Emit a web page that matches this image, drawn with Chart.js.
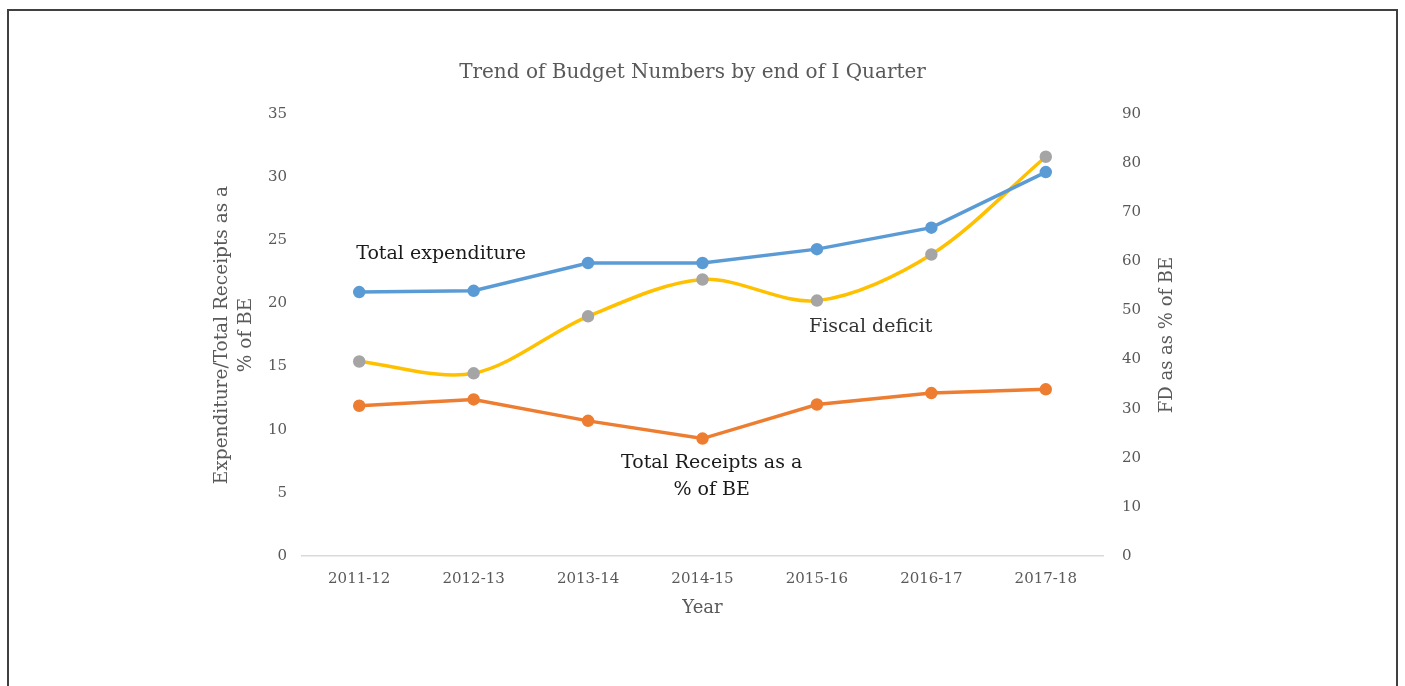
<!DOCTYPE html>
<html><head><meta charset="utf-8">
<script src="https://cdn.jsdelivr.net/npm/chart.js@4"></script>
<style>
html,body{margin:0;padding:0;background:#fff;overflow:hidden;width:1405px;height:686px}
#frame{position:absolute;left:7px;top:9px;width:1387px;height:700px;border:2px solid #404040;box-sizing:content-box}
#wrap{position:absolute;left:0;top:0;width:1405px;height:686px}
</style></head><body>
<div id="frame"></div>
<div id="wrap"><canvas id="c" width="1405" height="686"></canvas></div>
<script>
const categories = ['2011-12','2012-13','2013-14','2014-15','2015-16','2016-17','2017-18'];
const totalExpenditure = [20.9, 21.0, 23.2, 23.2, 24.3, 26.0, 30.4];
const totalReceipts = [11.9, 12.4, 10.7, 9.3, 12.0, 12.9, 13.2];
const fiscalDeficit = [39.6, 37.2, 48.8, 56.3, 52.0, 61.4, 81.3];
const leftAxisRange = [0, 35, 5];
const rightAxisRange = [0, 90, 10];
const chartTitle = 'Trend of Budget Numbers by end of I Quarter';
const leftAxisTitle = ['Expenditure/Total Receipts as a', '% of BE'];
const rightAxisTitle = 'FD as as % of BE';
const xAxisTitle = 'Year';

const FONT = "'DejaVu Serif', 'Liberation Serif', serif";
const GREY = '#595959';

const textPlugin = {
  id: 'texts',
  afterDraw(chart) {
    const ctx = chart.ctx, ca = chart.chartArea;
    const xs = chart.scales.x, ys = chart.scales.y;
    ctx.save();
    ctx.fillStyle = GREY;
    ctx.font = '20px ' + FONT;
    ctx.textAlign = 'center'; ctx.textBaseline = 'middle';
    ctx.fillText(chartTitle, (ca.left + ca.right) / 2 - 10, 73);
    ctx.font = '18px ' + FONT;
    ctx.fillText(xAxisTitle, (ca.left + ca.right) / 2, 608);
    ctx.save();
    ctx.translate(222, (ca.top + ca.bottom) / 2);
    ctx.rotate(-Math.PI / 2);
    ctx.font = '18.5px ' + FONT;
    ctx.fillText(leftAxisTitle[0], 0, 0);
    ctx.fillText(leftAxisTitle[1], 0, 24);
    ctx.restore();
    ctx.save();
    ctx.translate(1167, (ca.top + ca.bottom) / 2);
    ctx.rotate(-Math.PI / 2);
    ctx.font = '18px ' + FONT;
    ctx.fillText(rightAxisTitle, 0, 0);
    ctx.restore();
    ctx.fillStyle = '#1a1a1a';
    ctx.font = '19px ' + FONT;
    ctx.textAlign = 'left';
    ctx.fillText('Total expenditure', xs.getPixelForValue(0) - 3, ys.getPixelForValue(23.9));
    ctx.textAlign = 'center';
    ctx.fillStyle = '#333333';
    ctx.fillText('Fiscal deficit', xs.getPixelForValue(4.47), ys.getPixelForValue(18.1));
    ctx.fillStyle = '#1a1a1a';
    ctx.fillText('Total Receipts as a', xs.getPixelForValue(3.08), ys.getPixelForValue(7.35));
    ctx.fillText('% of BE', xs.getPixelForValue(3.08), ys.getPixelForValue(5.2));
    ctx.restore();
  }
};

new Chart(document.getElementById('c'), {
  type: 'line',
  data: {
    labels: categories,
    datasets: [
      {
        label: 'Total expenditure', data: totalExpenditure, yAxisID: 'y',
        borderColor: '#5B9BD5', backgroundColor: '#5B9BD5',
        pointBackgroundColor: '#5B9BD5', pointBorderColor: '#5B9BD5',
        borderWidth: 3.5, pointRadius: 4.5, tension: 0, order: 1
      },
      {
        label: 'Total Receipts as a % of BE', data: totalReceipts, yAxisID: 'y',
        borderColor: '#ED7D31', backgroundColor: '#ED7D31',
        pointBackgroundColor: '#ED7D31', pointBorderColor: '#ED7D31',
        borderWidth: 3.5, pointRadius: 4.5, tension: 0, order: 2
      },
      {
        label: 'Fiscal deficit', data: fiscalDeficit, yAxisID: 'y1',
        borderColor: '#FFC000', backgroundColor: '#A5A5A5',
        pointBackgroundColor: '#A5A5A5', pointBorderColor: '#A5A5A5',
        borderWidth: 3.5, pointRadius: 4.5, tension: 0.32, order: 3
      }
    ]
  },
  options: {
    responsive: false,
    animation: false,
    devicePixelRatio: 1,
    layout: { padding: { top: 114, left: 0, right: 0, bottom: 0 } },
    plugins: { legend: { display: false }, tooltip: { enabled: false }, title: { display: false } },
    scales: {
      x: {
        offset: true,
        grid: { display: false, drawTicks: false, offset: true },
        border: { display: true, color: '#d9d9d9', width: 1.5 },
        ticks: { color: GREY, font: { family: FONT, size: 15 }, padding: 14, maxRotation: 0 },
        afterFit(s) { s.height = 130; }
      },
      y: {
        position: 'left', min: leftAxisRange[0], max: leftAxisRange[1],
        grid: { display: false, drawTicks: false },
        border: { display: false },
        ticks: { stepSize: leftAxisRange[2], color: GREY, font: { family: FONT, size: 15 }, padding: 15 },
        afterFit(s) { s.width = 302; }
      },
      y1: {
        position: 'right', min: rightAxisRange[0], max: rightAxisRange[1],
        grid: { display: false, drawTicks: false },
        border: { display: false },
        ticks: { stepSize: rightAxisRange[2], color: GREY, font: { family: FONT, size: 15 }, padding: 19 },
        afterFit(s) { s.width = 302; }
      }
    }
  },
  plugins: [textPlugin]
});
</script>
</body></html>
